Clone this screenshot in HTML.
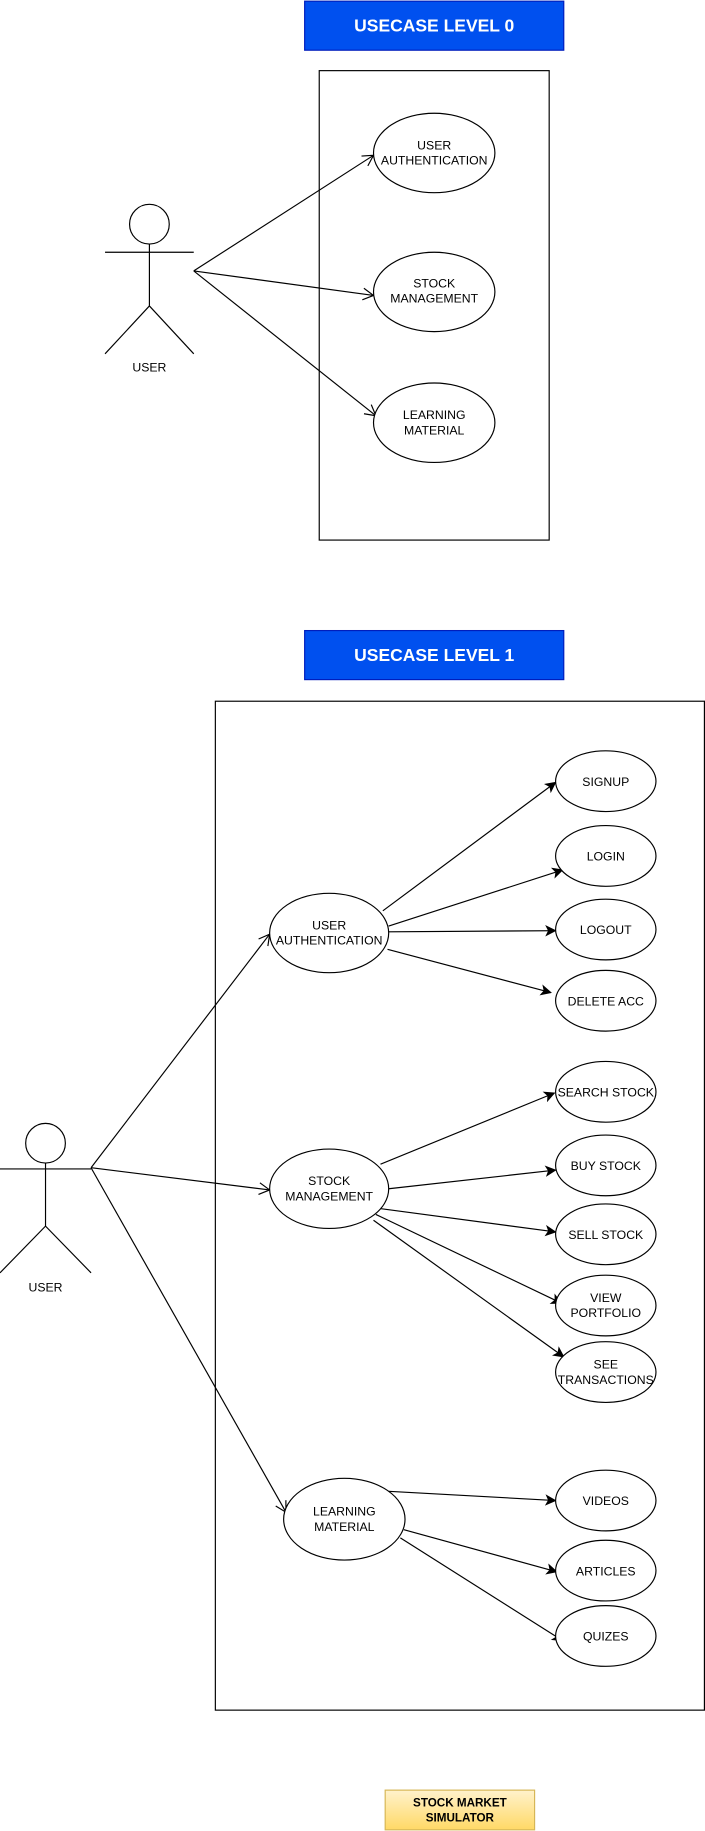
<!DOCTYPE html>
<html><head><meta charset="utf-8"><style>
html,body{margin:0;padding:0;background:#fff;}
svg{display:block;}
text{font-family:"Liberation Sans",Arial,sans-serif;}
</style></head><body>
<svg width="705" height="1831" viewBox="0 0 604 1568" preserveAspectRatio="none" xmlns="http://www.w3.org/2000/svg">
<defs>
<marker id="open" markerWidth="12" markerHeight="12" refX="10" refY="6" orient="auto" markerUnits="userSpaceOnUse">
<path d="M1,1 L10,6 L1,11" fill="none" stroke="#000" stroke-width="1"/>
</marker>
<marker id="fill" markerWidth="10" markerHeight="10" refX="9" refY="5" orient="auto" markerUnits="userSpaceOnUse">
<path d="M1,1 L9,5 L1,9 L3,5 Z" fill="#000" stroke="#000" stroke-width="0.8"/>
</marker>
<linearGradient id="g" x1="0" y1="0" x2="0" y2="1"><stop offset="0" stop-color="#fff2cc"/><stop offset="1" stop-color="#ffd966"/></linearGradient>
</defs>
<g font-size="10.5" fill="#000" text-anchor="middle">
<!-- Level 0 -->
<rect x="261" y="1" width="222" height="42" fill="#0050ef" stroke="#001dbc"/>
<text x="372" y="27" fill="#fff" font-size="15" font-weight="bold">USECASE LEVEL 0</text>
<rect x="273.5" y="60.5" width="197" height="402" fill="none" stroke="#000"/>
<circle cx="128" cy="192" r="17" fill="none" stroke="#000"/>
<line x1="128" y1="209" x2="128" y2="262" stroke="#000"/>
<line x1="90" y1="216" x2="166" y2="216" stroke="#000"/>
<line x1="128" y1="262" x2="90" y2="303" stroke="#000"/>
<line x1="128" y1="262" x2="166" y2="303" stroke="#000"/>
<text x="128" y="318">USER</text>
<line x1="166" y1="232" x2="320" y2="133" stroke="#000" marker-end="url(#open)"/>
<line x1="166" y1="232" x2="320" y2="253" stroke="#000" marker-end="url(#open)"/>
<line x1="166" y1="232" x2="322" y2="356" stroke="#000" marker-end="url(#open)"/>
<ellipse cx="372" cy="131" rx="52" ry="34" fill="#fff" stroke="#000"/>
<text x="372" y="128">USER</text><text x="372" y="141">AUTHENTICATION</text>
<ellipse cx="372" cy="250" rx="52" ry="34" fill="#fff" stroke="#000"/>
<text x="372" y="246">STOCK</text><text x="372" y="259">MANAGEMENT</text>
<ellipse cx="372" cy="362" rx="52" ry="34" fill="#fff" stroke="#000"/>
<text x="372" y="359">LEARNING</text><text x="372" y="372">MATERIAL</text>

<!-- Level 1 -->
<rect x="261" y="540" width="222" height="42" fill="#0050ef" stroke="#001dbc"/>
<text x="372" y="566" fill="#fff" font-size="15" font-weight="bold">USECASE LEVEL 1</text>
<rect x="184.5" y="600.5" width="419" height="864" fill="none" stroke="#000"/>
<circle cx="39" cy="979" r="17" fill="none" stroke="#000"/>
<line x1="39" y1="996" x2="39" y2="1050" stroke="#000"/>
<line x1="0" y1="1001" x2="78" y2="1001" stroke="#000"/>
<line x1="39" y1="1050" x2="0" y2="1090" stroke="#000"/>
<line x1="39" y1="1050" x2="78" y2="1090" stroke="#000"/>
<text x="39" y="1106">USER</text>
<line x1="78" y1="1000" x2="231" y2="800" stroke="#000" marker-end="url(#open)"/>
<line x1="78" y1="1000" x2="231" y2="1019" stroke="#000" marker-end="url(#open)"/>
<line x1="78" y1="1000" x2="245" y2="1295" stroke="#000" marker-end="url(#open)"/>

<line x1="328" y1="780" x2="476" y2="670" stroke="#000" marker-end="url(#fill)"/>
<line x1="333" y1="793" x2="482" y2="745" stroke="#000" marker-end="url(#fill)"/>
<line x1="333" y1="798" x2="476" y2="797" stroke="#000" marker-end="url(#fill)"/>
<line x1="332" y1="813" x2="472" y2="850" stroke="#000" marker-end="url(#fill)"/>
<line x1="326" y1="997" x2="475" y2="936" stroke="#000" marker-end="url(#fill)"/>
<line x1="333" y1="1018" x2="476" y2="1002" stroke="#000" marker-end="url(#fill)"/>
<line x1="326" y1="1035" x2="476" y2="1055" stroke="#000" marker-end="url(#fill)"/>
<line x1="322" y1="1040" x2="481" y2="1116" stroke="#000" marker-end="url(#fill)"/>
<line x1="320" y1="1045" x2="483" y2="1162" stroke="#000" marker-end="url(#fill)"/>
<line x1="331" y1="1277" x2="476" y2="1285" stroke="#000" marker-end="url(#fill)"/>
<line x1="346" y1="1310" x2="477" y2="1346" stroke="#000" marker-end="url(#fill)"/>
<line x1="343" y1="1317" x2="482" y2="1405" stroke="#000" marker-end="url(#fill)"/>

<ellipse cx="282" cy="799" rx="51" ry="34" fill="#fff" stroke="#000"/>
<text x="282" y="796">USER</text><text x="282" y="809">AUTHENTICATION</text>
<ellipse cx="282" cy="1018" rx="51" ry="34" fill="#fff" stroke="#000"/>
<text x="282" y="1015">STOCK</text><text x="282" y="1028">MANAGEMENT</text>
<ellipse cx="295" cy="1301" rx="52" ry="35" fill="#fff" stroke="#000"/>
<text x="295" y="1298">LEARNING</text><text x="295" y="1311">MATERIAL</text>

<g fill="#fff" stroke="#000">
<ellipse cx="519" cy="669" rx="43" ry="26"/>
<ellipse cx="519" cy="733" rx="43" ry="26"/>
<ellipse cx="519" cy="796" rx="43" ry="26"/>
<ellipse cx="519" cy="857" rx="43" ry="26"/>
<ellipse cx="519" cy="935" rx="43" ry="26"/>
<ellipse cx="519" cy="998" rx="43" ry="26"/>
<ellipse cx="519" cy="1057" rx="43" ry="26"/>
<ellipse cx="519" cy="1118" rx="43" ry="26"/>
<ellipse cx="519" cy="1175" rx="43" ry="26"/>
<ellipse cx="519" cy="1285" rx="43" ry="26"/>
<ellipse cx="519" cy="1345" rx="43" ry="26"/>
<ellipse cx="519" cy="1401" rx="43" ry="26"/>
</g>
<text x="519" y="673">SIGNUP</text>
<text x="519" y="737">LOGIN</text>
<text x="519" y="800">LOGOUT</text>
<text x="519" y="861">DELETE ACC</text>
<text x="519" y="939">SEARCH STOCK</text>
<text x="519" y="1002">BUY STOCK</text>
<text x="519" y="1061">SELL STOCK</text>
<text x="519" y="1115">VIEW</text><text x="519" y="1128">PORTFOLIO</text>
<text x="519" y="1172">SEE</text><text x="519" y="1185">TRANSACTIONS</text>
<text x="519" y="1289">VIDEOS</text>
<text x="519" y="1349">ARTICLES</text>
<text x="519" y="1405">QUIZES</text>

<rect x="330" y="1533" width="128" height="34" fill="url(#g)" stroke="#d6b656"/>
<text x="394" y="1547" font-weight="bold" font-size="10">STOCK MARKET</text>
<text x="394" y="1560" font-weight="bold" font-size="10">SIMULATOR</text>
</g>
</svg>
</body></html>
